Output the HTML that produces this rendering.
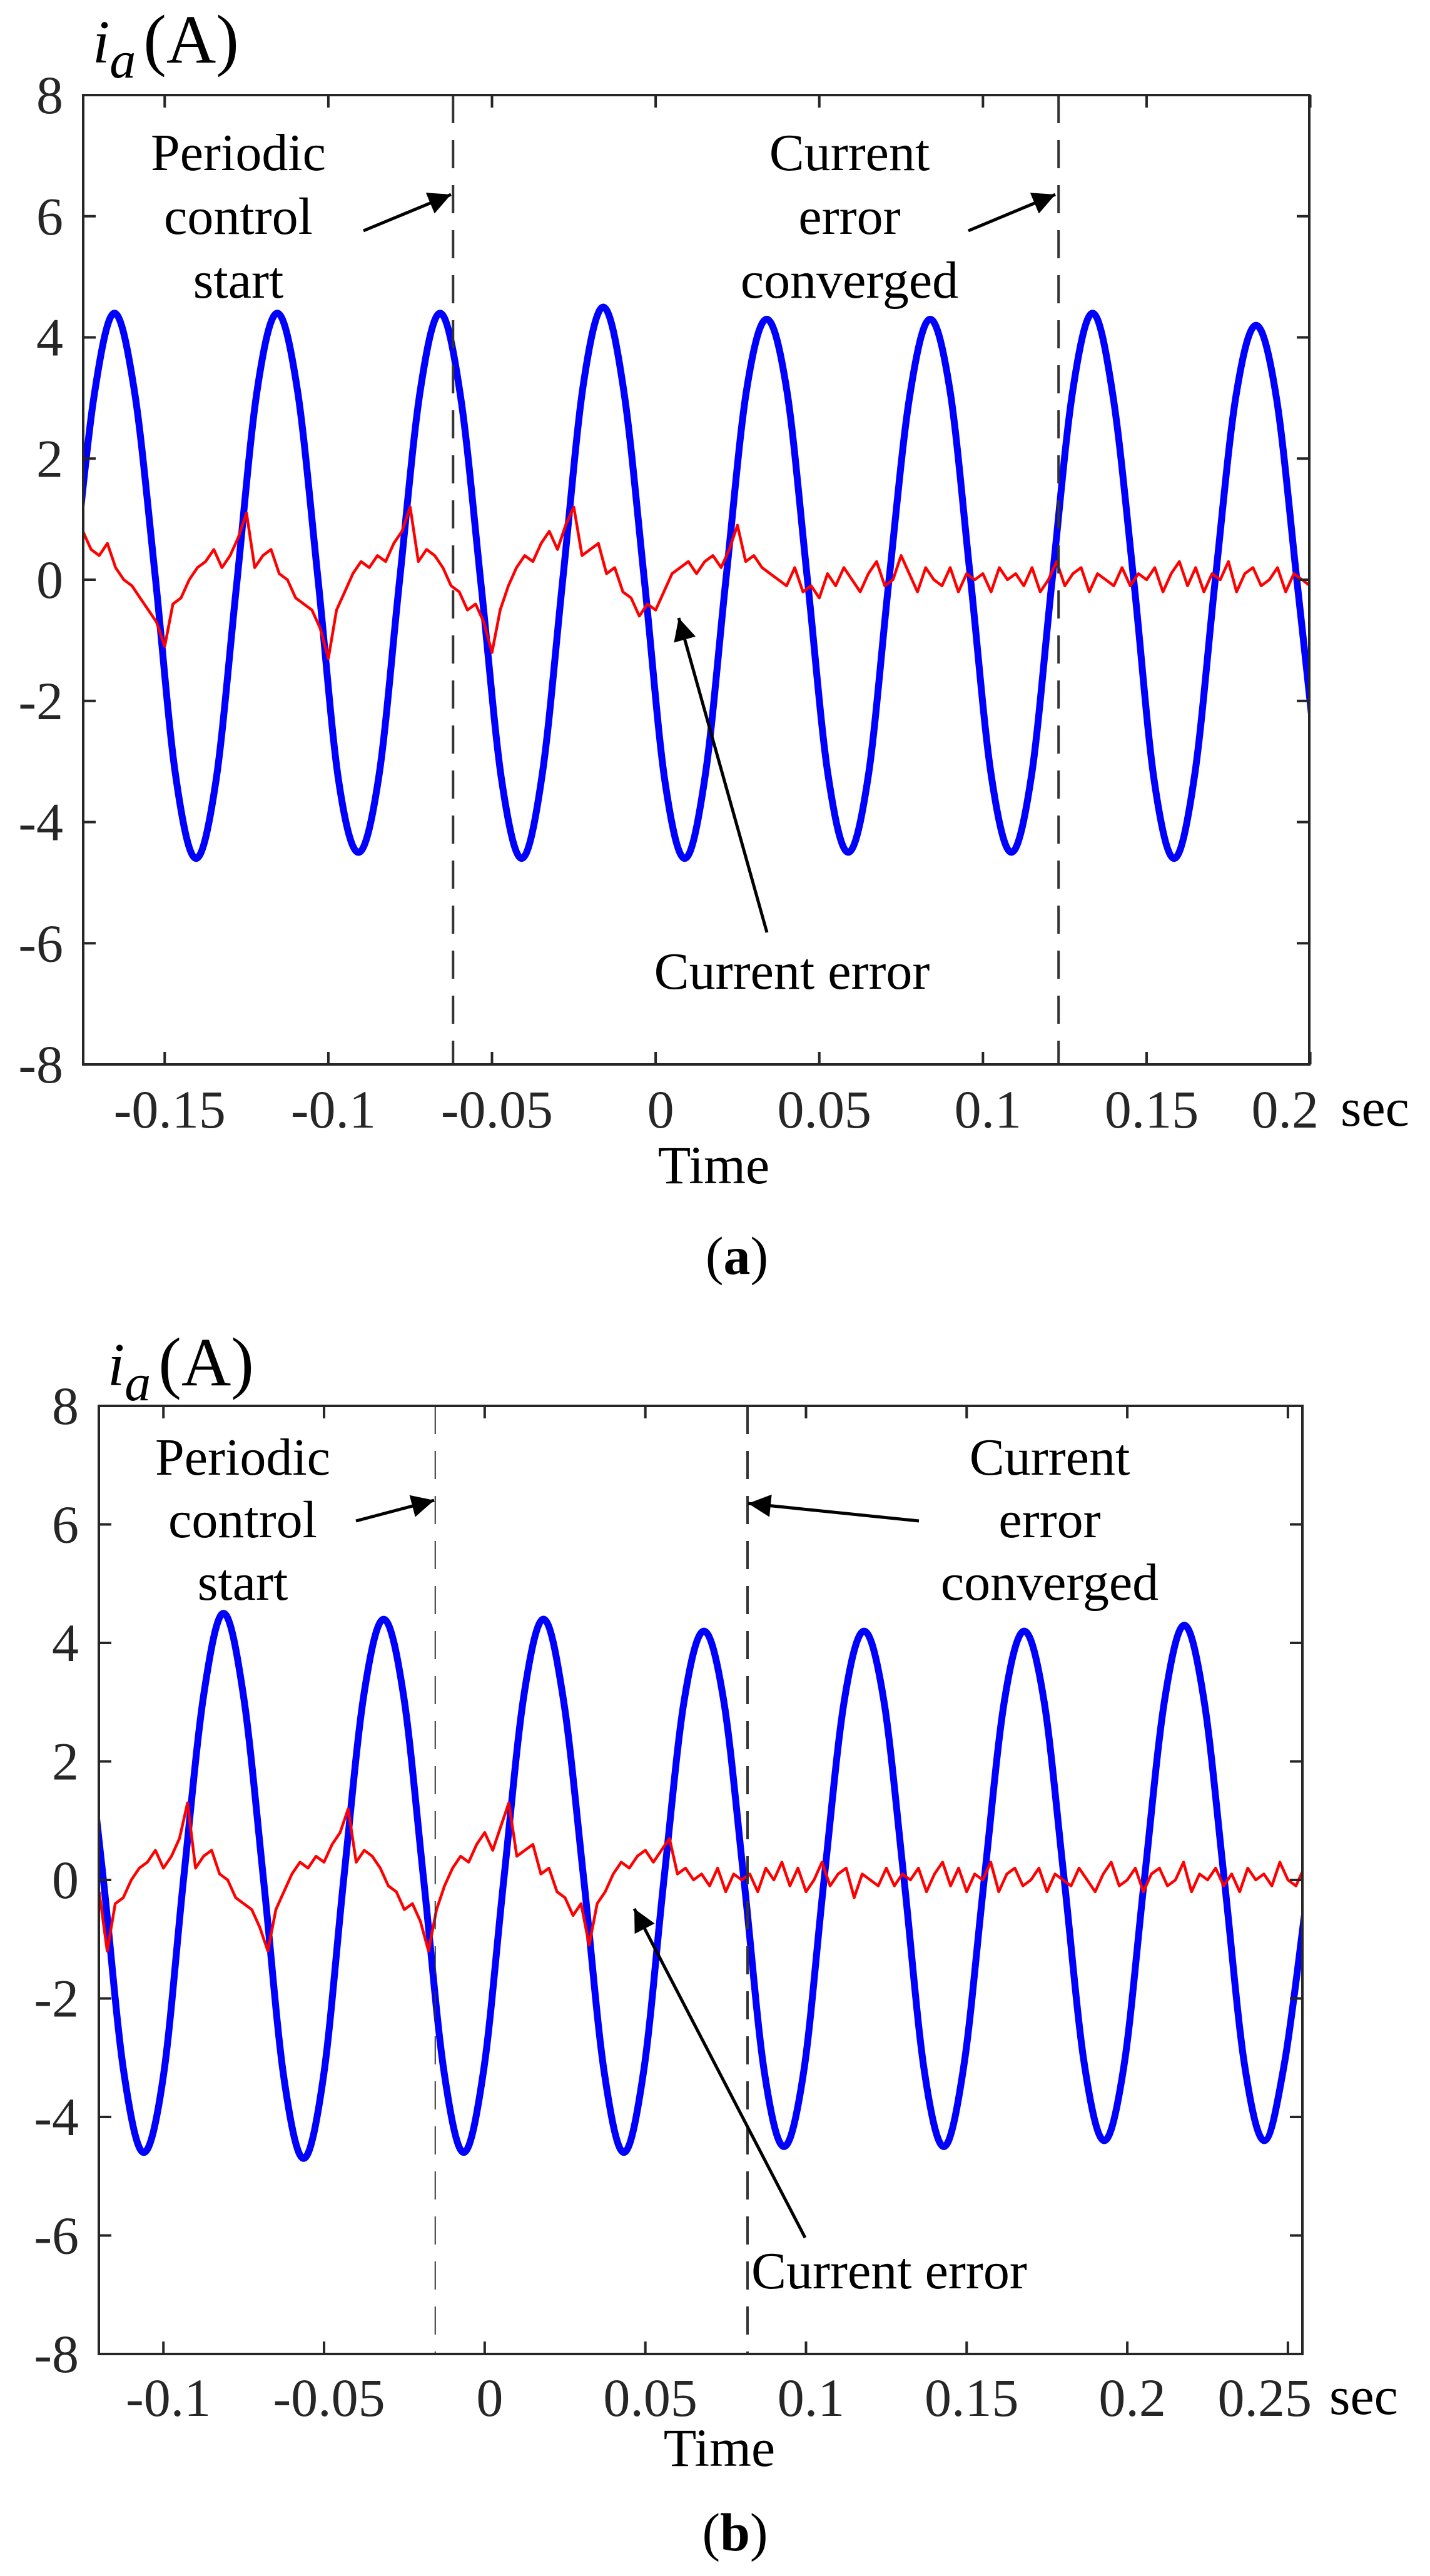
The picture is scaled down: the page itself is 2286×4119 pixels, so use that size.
<!DOCTYPE html>
<html><head><meta charset="utf-8"><style>
html,body{margin:0;padding:0;background:#fff;}
svg{display:block;font-family:"Liberation Serif","Times New Roman",serif;}
text{font-family:"Liberation Serif","Times New Roman",serif;}
</style></head><body>
<svg id="fig" width="2286" height="4119" viewBox="0 0 2286 4119" xmlns="http://www.w3.org/2000/svg">
<defs>
<clipPath id="clipA"><rect x="133" y="152" width="1960" height="1550"/></clipPath>
<clipPath id="clipB"><rect x="158" y="2248" width="1924" height="1516"/></clipPath>
<marker id="ah" viewBox="0 0 10 10" refX="10" refY="5" markerWidth="44" markerHeight="36" markerUnits="userSpaceOnUse" orient="auto"><path d="M0,0 L10,5 L0,10 z" fill="#000"/></marker>
</defs>
<g id="chartA"></g>
<g id="chartB"></g>
</svg>
<script>
// ---- Chart (a) data ----
const xTicksA = [-0.15, -0.1, -0.05, 0, 0.05, 0.1, 0.15, 0.2];
const xTickLabelsA = ["-0.15", "-0.1", "-0.05", "0", "0.05", "0.1", "0.15", "0.2"];
const yTicks = [-8, -6, -4, -2, 0, 2, 4, 6, 8];
const yTickLabels = ["-8", "-6", "-4", "-2", "0", "2", "4", "6", "8"];
const blueAStart = -0.1779;
const blueAStep = 0.00623;
const blueA = [0,3.0,4.4,3.1,0.1,-3.2,-4.6,-3.3,
 -0.1,3.1,4.4,3.1,0,-3.3,-4.5,-3.2,
 0,3.1,4.4,3.0,-0.1,-3.3,-4.6,-3.2,
 0,3.2,4.5,3.1,0,-3.3,-4.6,-3.2,
 0,3.1,4.3,3.1,0,-3.2,-4.5,-3.2,
 0,3.0,4.3,3.1,0,-3.2,-4.5,-3.2,
 0,3.1,4.4,3.0,0,-3.3,-4.6,-3.2,
 0,3.0,4.2,3.0,0,-3.1];
const redAStart = -0.175;
const redAStep = 0.0025;
const redA = [0.8,0.5,0.4,0.6,0.2,0.0,-0.1,-0.3,-0.5,-0.7,
 -1.1,-0.4,-0.3,0.0,0.2,0.3,0.5,0.2,0.4,0.7,1.1,0.2,0.4,0.5,0.1,0.0,-0.3,-0.4,-0.5,-0.8,
 -1.3,-0.5,-0.2,0.1,0.3,0.2,0.4,0.3,0.6,0.8,1.2,0.3,0.5,0.4,0.2,-0.1,-0.2,-0.5,-0.4,-0.7,
 -1.2,-0.5,-0.1,0.2,0.4,0.3,0.6,0.8,0.5,0.9,1.2,0.4,0.5,0.6,0.1,0.2,-0.2,-0.3,-0.6,-0.4,
 -0.5,-0.2,0.1,0.2,0.3,0.1,0.3,0.4,0.2,0.5,0.9,0.3,0.4,0.2,0.1,0.0,-0.1,0.2,-0.2,-0.1,
 -0.3,0.1,-0.1,0.2,0.0,-0.2,0.1,0.3,-0.1,0.0,0.4,0.1,-0.2,0.2,0.0,-0.1,0.2,-0.2,0.1,0.0,
 0.1,-0.2,0.2,0.0,0.1,-0.1,0.2,-0.2,0.0,0.3,-0.1,0.1,0.2,-0.2,0.1,0.0,-0.1,0.2,-0.1,0.1,
 0.0,0.2,-0.2,0.1,0.3,-0.1,0.2,-0.2,0.1,0.0,0.3,-0.2,0.1,0.2,-0.1,0.0,0.2,-0.2,0.1,0.0,-0.1];
const dashTimesA = [-0.0619, 0.1231];

// ---- Chart (b) data ----
const xTicksB = [-0.1, -0.05, 0, 0.05, 0.1, 0.15, 0.2, 0.25];
const xTickLabelsB = ["-0.1", "-0.05", "0", "0.05", "0.1", "0.15", "0.2", "0.25"];
const blueBStart = -0.1249;
const blueBStep = 0.00623;
const blueB = [3.0,0,-3.2,-4.6,-3.3,0,3.1,
 4.5,3.1,0,-3.3,-4.7,-3.3,0,3.1,
 4.4,3.1,0,-3.2,-4.6,-3.2,0,3.1,
 4.4,3.0,0,-3.2,-4.6,-3.2,0,3.0,
 4.2,3.0,0,-3.2,-4.5,-3.2,0,3.0,
 4.2,3.0,0,-3.2,-4.5,-3.1,0,3.0,
 4.2,3.0,0,-3.1,-4.4,-3.1,0,3.0,
 4.3,3.0,0,-3.1,-4.4,-3.1,-0.6];
const redBStart = -0.12;
const redBStep = 0.0025;
const redB = [-0.2,-1.2,
 -0.4,-0.3,0.0,0.2,0.3,0.5,0.2,0.4,0.7,1.3,0.2,0.4,0.5,0.1,0.0,-0.3,-0.4,-0.5,-0.8,
 -1.2,-0.5,-0.2,0.1,0.3,0.2,0.4,0.3,0.6,0.8,1.2,0.3,0.5,0.4,0.2,-0.1,-0.2,-0.5,-0.4,-0.7,
 -1.2,-0.5,-0.1,0.2,0.4,0.3,0.6,0.8,0.5,0.9,1.3,0.4,0.5,0.6,0.1,0.2,-0.2,-0.3,-0.6,-0.4,
 -1.1,-0.4,-0.2,0.1,0.3,0.2,0.4,0.5,0.3,0.5,0.7,0.1,0.2,0.0,0.1,-0.1,0.2,-0.2,0.1,0.0,
 0.1,-0.2,0.2,0.0,0.3,-0.1,0.2,-0.2,0.0,0.3,-0.1,0.1,0.2,-0.3,0.1,0.0,-0.1,0.2,-0.1,0.1,
 0.0,0.2,-0.2,0.1,0.3,-0.1,0.2,-0.2,0.1,0.0,0.3,-0.2,0.1,0.2,-0.1,0.0,0.2,-0.2,0.1,0.0,
 -0.1,0.2,0.0,-0.2,0.1,0.3,-0.1,0.0,0.2,-0.2,0.1,0.2,-0.1,0.0,0.3,-0.2,0.1,0.0,0.2,-0.1,
 0.1,-0.2,0.2,0.0,0.1,-0.1,0.3,0.0,-0.1,0.2];
const dashTimesB = [-0.0154, 0.0818];

const NS = "http://www.w3.org/2000/svg";
const FONT = "Liberation Serif, Times New Roman, serif";
function mk(tag, attrs, parent) {
  const e = document.createElementNS(NS, tag);
  for (const k in attrs) e.setAttribute(k, attrs[k]);
  if (tag === "text") e.setAttribute("font-family", FONT);
  parent.appendChild(e);
  return e;
}
function smoothPath(pts) {
  let d = "M" + pts[0][0].toFixed(1) + "," + pts[0][1].toFixed(1);
  for (let i = 0; i < pts.length - 1; i++) {
    const p0 = pts[Math.max(0, i - 1)], p1 = pts[i], p2 = pts[i + 1], p3 = pts[Math.min(pts.length - 1, i + 2)];
    const c1x = p1[0] + (p2[0] - p0[0]) / 6, c1y = p1[1] + (p2[1] - p0[1]) / 6;
    const c2x = p2[0] - (p3[0] - p1[0]) / 6, c2y = p2[1] - (p3[1] - p1[1]) / 6;
    d += " C" + c1x.toFixed(1) + "," + c1y.toFixed(1) + " " + c2x.toFixed(1) + "," + c2y.toFixed(1) + " " + p2[0].toFixed(1) + "," + p2[1].toFixed(1);
  }
  return d;
}

function drawChart(g, cfg) {
  const L = cfg.left, R = cfg.right, T = cfg.top, B = cfg.bottom;
  const xs = t => L + (t - cfg.xmin) / (cfg.xmax - cfg.xmin) * (R - L);
  const ys = v => B - (v + 8) / 16 * (B - T);

  const yt = mk("text", {x: cfg.titleX, y: cfg.titleY, "font-size": 98, fill: "#000"}, g);
  
  
  const ti = mk("tspan", {"font-style": "italic"}, yt); ti.textContent = "i";
  const ta = mk("tspan", {"font-style": "italic", dy: 24, "font-size": 84}, yt); ta.textContent = "a";
  const tp = mk("tspan", {dy: -24, dx: 12, "font-size": 110}, yt); tp.textContent = "(A)";

  const blue = cfg.blue.map((v, i) => [xs(cfg.blueStart + i * cfg.blueStep), ys(v)]);
  const bp = mk("path", {d: smoothPath(blue), fill: "none", stroke: "#0000ff", "stroke-width": 11, "stroke-linejoin": "round", "clip-path": cfg.clip}, g);
  
  

  const red = cfg.red.map((v, i) => xs(cfg.redStart + i * cfg.redStep).toFixed(1) + "," + ys(v).toFixed(1)).join(" ");
  const rp = mk("polyline", {points: red, fill: "none", stroke: "#ff0000", "stroke-width": 4.5, "stroke-linejoin": "round", "clip-path": cfg.clip}, g);
  
  

  cfg.dashes.forEach((t, i) => {
    const dl = mk("line", {x1: xs(t), x2: xs(t), y1: T, y2: B, stroke: "#333", "stroke-width": cfg.dashW[i], "stroke-dasharray": "45 27"}, g);
    
    
  });

  const box = mk("rect", {x: L, y: T, width: R - L, height: B - T, fill: "none", stroke: "#262626", "stroke-width": 4}, g);
  
  

  yTicks.forEach((v, i) => {
    const y = ys(v);
    mk("line", {x1: L, x2: L + 20, y1: y, y2: y, stroke: "#262626", "stroke-width": 4}, g);
    mk("line", {x1: R, x2: R - 20, y1: y, y2: y, stroke: "#262626", "stroke-width": 4}, g);
    const lb = mk("text", {x: L - 32, y: y + 29, "font-size": 86, fill: "#262626", "text-anchor": "end"}, g);
    
    
    lb.textContent = yTickLabels[i];
  });
  cfg.xTicks.forEach((t, i) => {
    const x = xs(t);
    mk("line", {x1: x, x2: x, y1: B, y2: B - 20, stroke: "#262626", "stroke-width": 4}, g);
    mk("line", {x1: x, x2: x, y1: T, y2: T + 20, stroke: "#262626", "stroke-width": 4}, g);
    const last = i === cfg.xTicks.length - 1;
    const lb = mk("text", {x: last ? R + 15 : x + 8, y: cfg.xLabelY, "font-size": 86, fill: "#262626", "text-anchor": last ? "end" : "middle"}, g);
    
    
    lb.textContent = cfg.xTickLabels[i];
  });
  const sec = mk("text", {x: cfg.secX, y: cfg.xLabelY - 3, "font-size": 86, fill: "#000"}, g);
  
  
  sec.textContent = "sec";
  const tm = mk("text", {x: cfg.timeX, y: cfg.timeY, "font-size": 86, fill: "#000", "text-anchor": "middle"}, g);
  
  
  tm.textContent = "Time";
  const cap = mk("text", {x: cfg.capX, y: cfg.capY, "font-size": 86, fill: "#000", "text-anchor": "middle"}, g);
  
  
  const c1 = mk("tspan", {}, cap); c1.textContent = "(";
  const c2 = mk("tspan", {"font-weight": "bold"}, cap); c2.textContent = cfg.capLetter;
  const c3 = mk("tspan", {}, cap); c3.textContent = ")";

  cfg.notes.forEach(n => {
    const tx = mk("text", {x: n.x, y: n.y, "font-size": 84, fill: "#000", "text-anchor": n.anchor}, g);
    
    
    n.lines.forEach((s, i) => {
      const sp = mk("tspan", {x: n.x, dy: i === 0 ? 0 : n.lh}, tx);
      sp.textContent = s;
    });
  });
  cfg.arrows.forEach(a => {
    const ar = mk("line", {x1: a[0], y1: a[1], x2: a[2], y2: a[3], stroke: "#000", "stroke-width": 5, "marker-end": "url(#ah)"}, g);
    
    
  });
}

drawChart(document.getElementById("chartA"), {
  left: 133, right: 2093, top: 152, bottom: 1702, xmin: -0.1749, xmax: 0.1997, clip: "url(#clipA)",
  blue: blueA, blueStart: blueAStart, blueStep: blueAStep,
  red: redA, redStart: redAStart, redStep: redAStep,
  dashes: dashTimesA, dashW: [4, 4],
  xTicks: xTicksA, xTickLabels: xTickLabelsA,
  titleX: 148, titleY: 100, xLabelY: 1803, secX: 2143, timeX: 1141, timeY: 1892,
  capX: 1178, capY: 2037, capLetter: "a",
  notes: [
    {name: "periodic-control-start-label", x: 381, y: 272, lh: 102, anchor: "middle", lines: ["Periodic", "control", "start"]},
    {name: "current-error-converged-label", x: 1358, y: 272, lh: 102, anchor: "middle", lines: ["Current", "error", "converged"]},
    {name: "current-error-label", x: 1266, y: 1581, lh: 0, anchor: "middle", lines: ["Current error"]}
  ],
  arrows: [[581, 369, 721, 311], [1548, 369, 1687, 311], [1226, 1491, 1085, 988]]
});

drawChart(document.getElementById("chartB"), {
  left: 158, right: 2082, top: 2248, bottom: 3764, xmin: -0.1201, xmax: 0.2545, clip: "url(#clipB)",
  blue: blueB, blueStart: blueBStart, blueStep: blueBStep,
  red: redB, redStart: redBStart, redStep: redBStep,
  dashes: dashTimesB, dashW: [2, 4],
  xTicks: xTicksB, xTickLabels: xTickLabelsB,
  titleX: 172, titleY: 2215, xLabelY: 3863, secX: 2125, timeX: 1150, timeY: 3943,
  capX: 1175, capY: 4078, capLetter: "b",
  notes: [
    {name: "periodic-control-start-label", x: 388, y: 2358, lh: 100, anchor: "middle", lines: ["Periodic", "control", "start"]},
    {name: "current-error-converged-label", x: 1678, y: 2358, lh: 100, anchor: "middle", lines: ["Current", "error", "converged"]},
    {name: "current-error-label", x: 1201, y: 3659, lh: 0, anchor: "start", lines: ["Current error"]}
  ],
  arrows: [[569, 2432, 694, 2399], [1469, 2432, 1196, 2404], [1287, 3578, 1014, 3052]]
});
</script>
</body></html>
